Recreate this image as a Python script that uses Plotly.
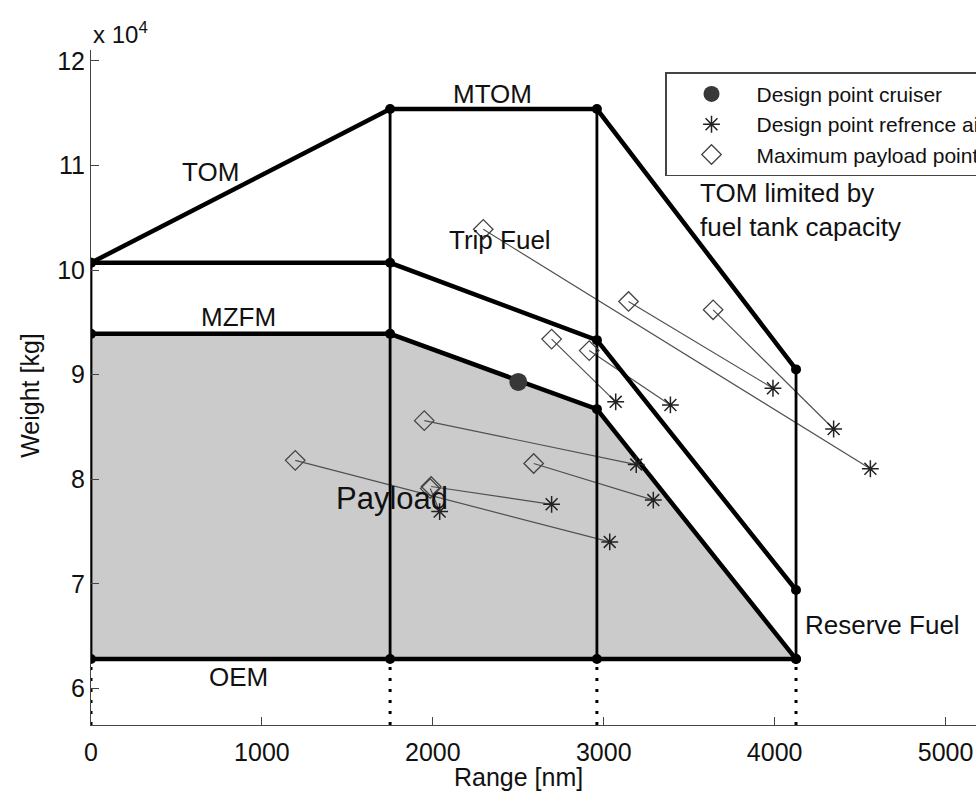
import plotly.graph_objects as go

# ---------------- data ----------------
env_range = [0, 1750, 2960, 4125]                 # nm, envelope corner ranges
tom_weight = [100700, 115400, 115400, 90500]      # TOM / MTOM / fuel-tank limit
trip_weight = [100700, 100700, 93300, 69400]      # TOM minus trip fuel
mzfm_weight = [93900, 93900, 86700, 62800]        # MZFM / payload boundary
oem_weight = 62800                                # OEM

cruiser_range = [2500]
cruiser_weight = [89300]

maxpl_range = [2295, 3145, 3640, 2695, 2915, 1950, 2590, 1990, 1985, 1195]
maxpl_weight = [103900, 97000, 96200, 93400, 92300, 85600, 81500, 79300, 79100, 81800]
ref_range = [4560, 3990, 4345, 3070, 3390, 3190, 3290, 2695, 2040, 3035]
ref_weight = [81000, 88700, 84800, 87400, 87100, 81400, 78000, 77600, 76900, 74000]

x_ticks = [0, 1000, 2000, 3000, 4000, 5000]
y_ticks = [60000, 70000, 80000, 90000, 100000, 110000, 120000]
y_ticktext = ["6", "7", "8", "9", "10", "11", "12"]

X_RANGE = [0, 5178]
Y_RANGE = [56490, 121050]

FONT = "Liberation Sans, Arial, sans-serif"

fig = go.Figure()

# payload area
fig.add_trace(go.Scatter(
    x=env_range + [env_range[-1], env_range[0]],
    y=mzfm_weight + [oem_weight, oem_weight],
    fill="toself", fillcolor="#cbcbcb", mode="none",
    hoverinfo="skip", showlegend=False))

# connecting lines max payload -> reference design point
px, py = [], []
for a, b, c, d in zip(maxpl_range, maxpl_weight, ref_range, ref_weight):
    px += [a, c, None]
    py += [b, d, None]
fig.add_trace(go.Scatter(x=px, y=py, mode="lines",
                         line=dict(color="#505050", width=1.2),
                         hoverinfo="skip", showlegend=False))

# vertical solid lines
vx, vy = [], []
for x, top in zip(env_range, tom_weight):
    vx += [x, x, None]
    vy += [oem_weight, top, None]
fig.add_trace(go.Scatter(x=vx, y=vy, mode="lines",
                         line=dict(color="black", width=2.8),
                         hoverinfo="skip", showlegend=False))

# dotted verticals down to axis
dx, dy = [], []
for x in env_range:
    dx += [x, x, None]
    dy += [Y_RANGE[0], oem_weight, None]
fig.add_trace(go.Scatter(x=dx, y=dy, mode="lines",
                         line=dict(color="black", width=3, dash="3px,8px"),
                         hoverinfo="skip", showlegend=False))

# envelope lines
for w in [tom_weight, trip_weight, mzfm_weight]:
    fig.add_trace(go.Scatter(x=env_range, y=w, mode="lines",
                             line=dict(color="black", width=4.5),
                             hoverinfo="skip", showlegend=False))
fig.add_trace(go.Scatter(x=[env_range[0], env_range[-1]], y=[oem_weight, oem_weight],
                         mode="lines", line=dict(color="black", width=4.5),
                         hoverinfo="skip", showlegend=False))

# vertex dots
vtx_x = env_range * 4
vtx_y = tom_weight + trip_weight + mzfm_weight + [oem_weight] * len(env_range)
fig.add_trace(go.Scatter(x=vtx_x, y=vtx_y, mode="markers",
                         marker=dict(color="black", size=10),
                         hoverinfo="skip", showlegend=False))

# legend traces
fig.add_trace(go.Scatter(x=cruiser_range, y=cruiser_weight, mode="markers",
                         name="Design point cruiser",
                         marker=dict(color="#383838", size=18)))
fig.add_trace(go.Scatter(x=ref_range, y=ref_weight, mode="markers",
                         name="Design point refrence aircraft",
                         marker=dict(symbol="asterisk-open", size=14,
                                     color="#222222",
                                     line=dict(color="#222222", width=1.5))))
fig.add_trace(go.Scatter(x=maxpl_range, y=maxpl_weight, mode="markers",
                         name="Maximum payload point",
                         marker=dict(symbol="diamond-open", size=15,
                                     color="#444444",
                                     line=dict(color="#444444", width=1.3))))

lab = dict(family=FONT, size=26, color="#111111")
annots = [
    dict(text="TOM", x=700, y=109400, xref="x", yref="y", showarrow=False, font=lab),
    dict(text="MTOM", x=2350, y=116800, xref="x", yref="y", showarrow=False, font=lab),
    dict(text="Trip Fuel", x=2395, y=102900, xref="x", yref="y", showarrow=False, font=lab),
    dict(text="MZFM", x=865, y=95500, xref="x", yref="y", showarrow=False, font=lab),
    dict(text="Payload", x=1760, y=78200, xref="x", yref="y", showarrow=False,
         font=dict(family=FONT, size=31, color="#111111")),
    dict(text="OEM", x=865, y=61100, xref="x", yref="y", showarrow=False, font=lab),
    dict(text="TOM limited by<br>fuel tank capacity", x=3552, y=105750, xref="x", yref="y",
         xanchor="left", align="left", showarrow=False, font=lab),
    dict(text="Reserve Fuel", x=4165, y=66050, xref="x", yref="y",
         xanchor="left", showarrow=False, font=lab),
    dict(text="x 10<sup>4</sup>", x=0, y=1.025, xref="paper", yref="paper",
         xanchor="left", yanchor="middle", showarrow=False,
         font=dict(family=FONT, size=24, color="#111111")),
    dict(text="Weight [kg]", x=-0.069, y=0.489, xref="paper", yref="paper",
         xanchor="center", yanchor="middle", textangle=-90, showarrow=False,
         font=dict(family=FONT, size=25, color="#111111")),
    dict(text="Range [nm]", x=2500, y=-0.077, xref="x", yref="paper",
         xanchor="center", yanchor="middle",
         showarrow=False, font=dict(family=FONT, size=25, color="#111111")),
]

fig.update_layout(
    width=976, height=796,
    margin=dict(l=91, r=0, t=50, b=71, autoexpand=False),
    paper_bgcolor="white", plot_bgcolor="white",
    font=dict(family=FONT, color="#111111"),
    annotations=annots,
    showlegend=True,
    legend=dict(x=0.6486, y=0.967, xanchor="left", yanchor="top",
                bgcolor="white", bordercolor="#444444", borderwidth=1.5,
                font=dict(family=FONT, size=21, color="#111111"),
                itemwidth=80, traceorder="normal"),
    xaxis=dict(range=X_RANGE, tickvals=x_ticks, ticks="inside", ticklen=8,
               tickcolor="#444444", showline=True, linecolor="#444444", linewidth=1,
               showgrid=False, zeroline=False, mirror=False, ticklabelstandoff=5,
               tickfont=dict(family=FONT, size=25, color="#111111")),
    yaxis=dict(range=Y_RANGE, tickvals=y_ticks, ticktext=y_ticktext, ticks="inside",
               ticklen=8, tickcolor="#444444", showline=True, linecolor="#444444",
               linewidth=1, showgrid=False, zeroline=False, mirror=False,
               tickfont=dict(family=FONT, size=25, color="#111111")),
)

fig.write_html("out.html")
